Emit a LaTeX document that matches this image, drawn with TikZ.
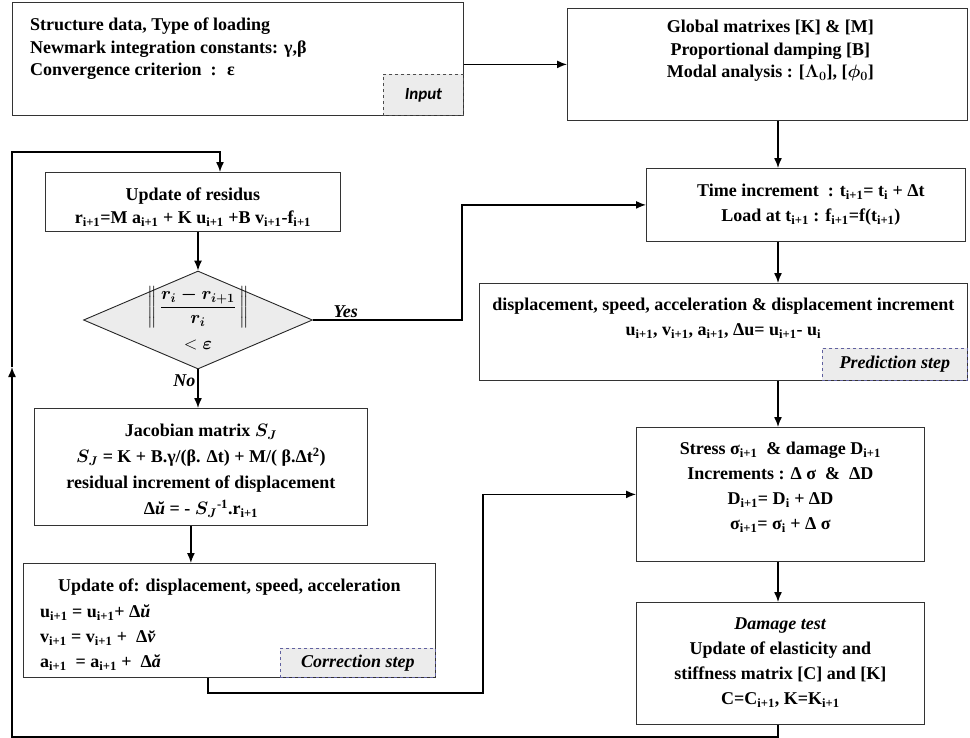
\documentclass[tikz,border=0pt]{standalone}
\usepackage{fix-cm}
\usepackage{amsmath}
\usepackage{fontspec}
\setmainfont{Liberation Serif}
\newfontfamily\tagfont{Carlito}
\usetikzlibrary{arrows.meta, shapes.geometric}
\newcommand{\ix}[1]{\textsubscript{#1}}

\begin{document}
\begin{tikzpicture}[
    x=1pt, y=-1pt,
    frame/.style={draw=black!80, line width=0.8pt, rectangle, inner sep=0pt, anchor=north west},
    txt/.style={font=\fontsize{18}{25}\selectfont\bfseries, align=center, inner sep=0pt, anchor=north},
    tag/.style={draw=black!70, dashed, fill=gray!15, line width=0.7pt, inner sep=0pt, anchor=south east,
      font=\fontsize{18}{20}\selectfont\bfseries\itshape},
    test/.style={draw=black!85, line width=0.9pt, diamond, fill=gray!15, inner sep=0pt},
    flow/.style={draw, line width=1.4pt, -{Latex[length=10pt,width=8pt]}},
    lbl/.style={font=\fontsize{18}{20}\selectfont\bfseries\itshape, inner sep=2pt}]
  \useasboundingbox (0,0) rectangle (970,737);
  % frames
  \node[frame, minimum width=451pt, minimum height=113pt] (inp) at (12,2) {};
  \node[frame, minimum width=400pt, minimum height=112pt] (glob) at (567,8) {};
  \node[frame, minimum width=319pt, minimum height=73pt] (time) at (646,168) {};
  \node[frame, minimum width=488pt, minimum height=97pt] (pred) at (479,283) {};
  \node[frame, minimum width=288pt, minimum height=134pt] (stress) at (636,427) {};
  \node[frame, minimum width=288pt, minimum height=122pt] (dmg) at (636,602) {};
  \node[frame, minimum width=295pt, minimum height=59pt] (resid) at (45,172) {};
  \node[test, minimum width=229pt, minimum height=98pt] (dec) at (198,320) {};
  \node[frame, minimum width=333pt, minimum height=117pt] (jac) at (34,408) {};
  \node[frame, minimum width=412pt, minimum height=114pt] (corr) at (23,563) {};
  % step tags
  \node[tag, minimum width=80pt, minimum height=41pt, font=\fontsize{17}{18}\selectfont\tagfont\bfseries\itshape]
    (inpTag) at (inp.south east) {Input};
  \node[tag, draw=blue!25!gray, minimum width=145pt, minimum height=32pt] (predTag) at (pred.south east) {Prediction step};
  \node[tag, draw=blue!25!gray, minimum width=155pt, minimum height=29pt] (corrTag) at (corr.south east) {Correction step};
  % texts
  \node[txt, anchor=north west, align=left, font=\fontsize{18}{22.5}\selectfont\bfseries] (inpText)
    at ([xshift=18pt,yshift=-16pt]inp.north west)
    {Structure data, Type of loading\\ Newmark integration constants: γ,β\\ Convergence criterion~ :~ ε};
  \node[txt, font=\fontsize{18}{22.5}\selectfont\bfseries] (globText) at ([xshift=3pt,yshift=-12pt]glob.north)
    {Global matrixes [K] \& [M]\\ Proportional damping [B]\\
     Modal analysis : [$\boldsymbol{\Lambda_0}$], [$\boldsymbol{\phi_0}$]};
  \node[txt] (timeText) at ([xshift=5pt,yshift=-16pt]time.north)
    {Time increment~ : t\ix{i+1}= t\ix{i} + Δt\\ Load at t\ix{i+1} : f\ix{i+1}=f(t\ix{i+1})};
  \node[txt] (predText) at ([yshift=-15pt]pred.north)
    {displacement, speed, acceleration \& displacement increment\\
     u\ix{i+1}, v\ix{i+1}, a\ix{i+1}, Δu= u\ix{i+1}- u\ix{i}};
  \node[txt] (stressText) at ([yshift=-15pt]stress.north)
    {Stress σ\ix{i+1}~ \& damage D\ix{i+1}\\ Increments : Δ σ~ \&~ ΔD\\
     D\ix{i+1}= D\ix{i} + ΔD\\ σ\ix{i+1}= σ\ix{i} + Δ σ};
  \node[txt] (dmgText) at ([yshift=-16pt]dmg.north)
    {\textit{Damage test}\\ Update of elasticity and\\ stiffness matrix [C] and [K]\\ C=C\ix{i+1}, K=K\ix{i+1}};
  \node[txt, font=\fontsize{18}{23}\selectfont\bfseries] (residText) at ([yshift=-16pt]resid.north)
    {Update of residus\\ r\ix{i+1}=M a\ix{i+1} + K u\ix{i+1} +B v\ix{i+1}-f\ix{i+1}};
  \node[inner sep=0pt, font=\fontsize{18}{20}\selectfont] (decText) at ([yshift=-1pt]dec.center)
    {$\begin{array}{c}\left\|\,\dfrac{\boldsymbol{r_i - r_{i+1}}}{\boldsymbol{r_i}}\,\right\|\\[18pt]
      <\boldsymbol{\varepsilon}\end{array}$};
  \node[txt, font=\fontsize{18}{26}\selectfont\bfseries] (jacText) at ([yshift=-16pt]jac.north)
    {Jacobian matrix $\boldsymbol{S_J}$\\
     $\boldsymbol{S_J}$ = K + B.γ/(β. Δt) + M/( β.Δt\textsuperscript{2})\\
     residual increment of displacement\\
     Δ\textit{ŭ} = - $\boldsymbol{S_J}$\textsuperscript{-1}.r\ix{i+1}};
  \node[txt] (corrTitle) at ([yshift=-16pt]corr.north) {Update of: displacement, speed, acceleration};
  \node[txt, anchor=north west, align=left] (corrText) at ([xshift=17pt,yshift=-42pt]corr.north west)
    {u\ix{i+1} = u\ix{i+1}+ Δ\textit{ŭ}\\
     v\ix{i+1} = v\ix{i+1} +~ Δ\textit{v̆}\\
     a\ix{i+1}~ = a\ix{i+1} +~ Δ\textit{ă}};
  % connectors
  \coordinate (spine) at (778,0);
  \coordinate (loopL) at (12,367);
  \coordinate (loopT) at (220,152);
  \coordinate (yesX) at (462,0);
  \coordinate (jog) at (483,693);
  \coordinate (corrOut) at (208,0);
  \draw[flow] (inp.east |- glob.west) -- (glob.west);
  \draw[flow] (glob.south -| spine) -- (time.north -| spine);
  \draw[flow] (time.south -| spine) -- (pred.north -| spine);
  \draw[flow] (pred.south -| spine) -- (stress.north -| spine);
  \draw[flow] (stress.south -| spine) -- (dmg.north -| spine);
  \draw[flow] (dmg.south -| spine) -- ++(0,12) -| (loopL);
  \draw[flow] (loopL) |- (loopT) -- (loopT |- resid.north);
  \draw[flow] (resid.south -| dec.north) -- (dec.north);
  \draw[flow] (dec.east) -- node[lbl, above, pos=0.22] {Yes} (dec.east -| yesX) |- (time.west);
  \draw[flow] (dec.south) -- node[lbl, left, pos=0.3] {No} (jac.north -| dec.south);
  \draw[flow] ([xshift=-10pt]jac.south) -- ([xshift=-10pt]jac.south |- corr.north);
  \draw[flow] (corr.south -| corrOut) |- (jog) |- (stress.west);
\end{tikzpicture}
\end{document}
